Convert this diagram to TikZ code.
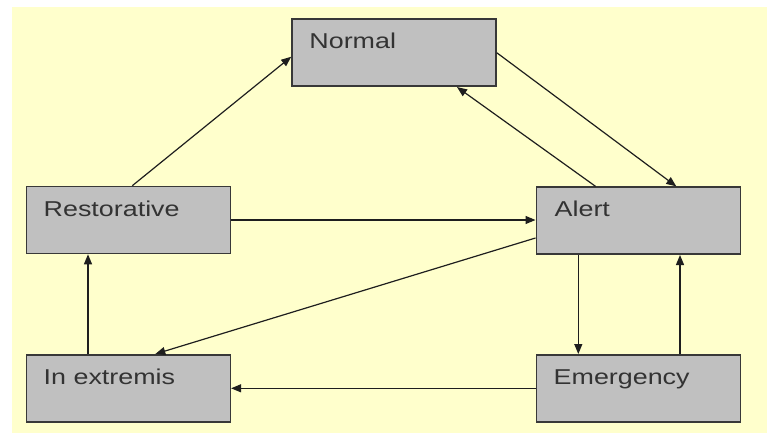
\documentclass[tikz,border=0pt]{standalone}
\usepackage{fontspec}
\newfontfamily\boxfont[FakeStretch=1.25]{Liberation Sans}
\usetikzlibrary{arrows.meta}
\definecolor{bgyellow}{HTML}{FFFFCC}
\definecolor{boxgray}{HTML}{C0C0C0}
\definecolor{edgedark}{HTML}{383838}
\definecolor{txtdark}{HTML}{333333}
\definecolor{arrdark}{HTML}{1E1E1E}
\tikzset{
  statebox/.style={draw=edgedark, line width=1.6pt, fill=boxgray,
    minimum width=204pt, minimum height=67pt, inner sep=0pt},
  statetext/.style={anchor=base west, inner sep=0pt, text=txtdark,
    font=\boxfont\fontsize{21.5pt}{24pt}\selectfont},
  conn/.style={draw=arrdark, line width=1.2pt,
    -{Triangle[length=10pt,width=8pt]}}
}
\begin{document}
\begin{tikzpicture}[x=1pt,y=-1pt]
\useasboundingbox (0,0) rectangle (767,433);
\fill[white] (0,0) rectangle (767,433);
\fill[bgyellow] (12,7.5) rectangle (767,433);

\node[statebox] (normal) at (394,52.75) {};
\node[statebox] (restorative) at (128.3,220) {};
\node[statebox] (alert) at (638.3,220.7) {};
\node[statebox] (emergency) at (638.3,388.3) {};
\node[statebox] (inextremis) at (128.3,388.3) {};

\node[statetext] (normalt) at ([xshift=18pt,yshift=-30pt]normal.north west) {Normal};
\node[statetext] (restorativet) at ([xshift=18pt,yshift=-30.5pt]restorative.north west) {Restorative};
\node[statetext] (alertt) at ([xshift=19pt,yshift=-30pt]alert.north west) {Alert};
\node[statetext] (emergencyt) at ([xshift=18pt,yshift=-30pt]emergency.north west) {Emergency};
\node[statetext] (inextremist) at ([xshift=18pt,yshift=-30pt]inextremis.north west) {In extremis};

\draw[conn] ([xshift=4pt]restorative.north) -- ([yshift=-4pt]normal.west);
\draw[conn] ([yshift=0pt]normal.east) -- ([xshift=38pt]alert.north);
\draw[conn] ([xshift=-42.7pt]alert.north) -- ([xshift=63pt]normal.south);
\draw[conn] (restorative.east) -- (restorative.east -| alert.west);
\draw[conn] ([yshift=-17.3pt]alert.west) -- ([xshift=27pt]inextremis.north);
\draw[conn] ([xshift=-60pt]alert.south) -- ([xshift=-60pt]emergency.north);
\draw[conn] ([xshift=41.7pt]emergency.north) -- ([xshift=41.7pt]alert.south);
\draw[conn] (emergency.west) -- (inextremis.east);
\draw[conn] ([xshift=-40.3pt]inextremis.north) -- ([xshift=-40.3pt]restorative.south);
\end{tikzpicture}
\end{document}
